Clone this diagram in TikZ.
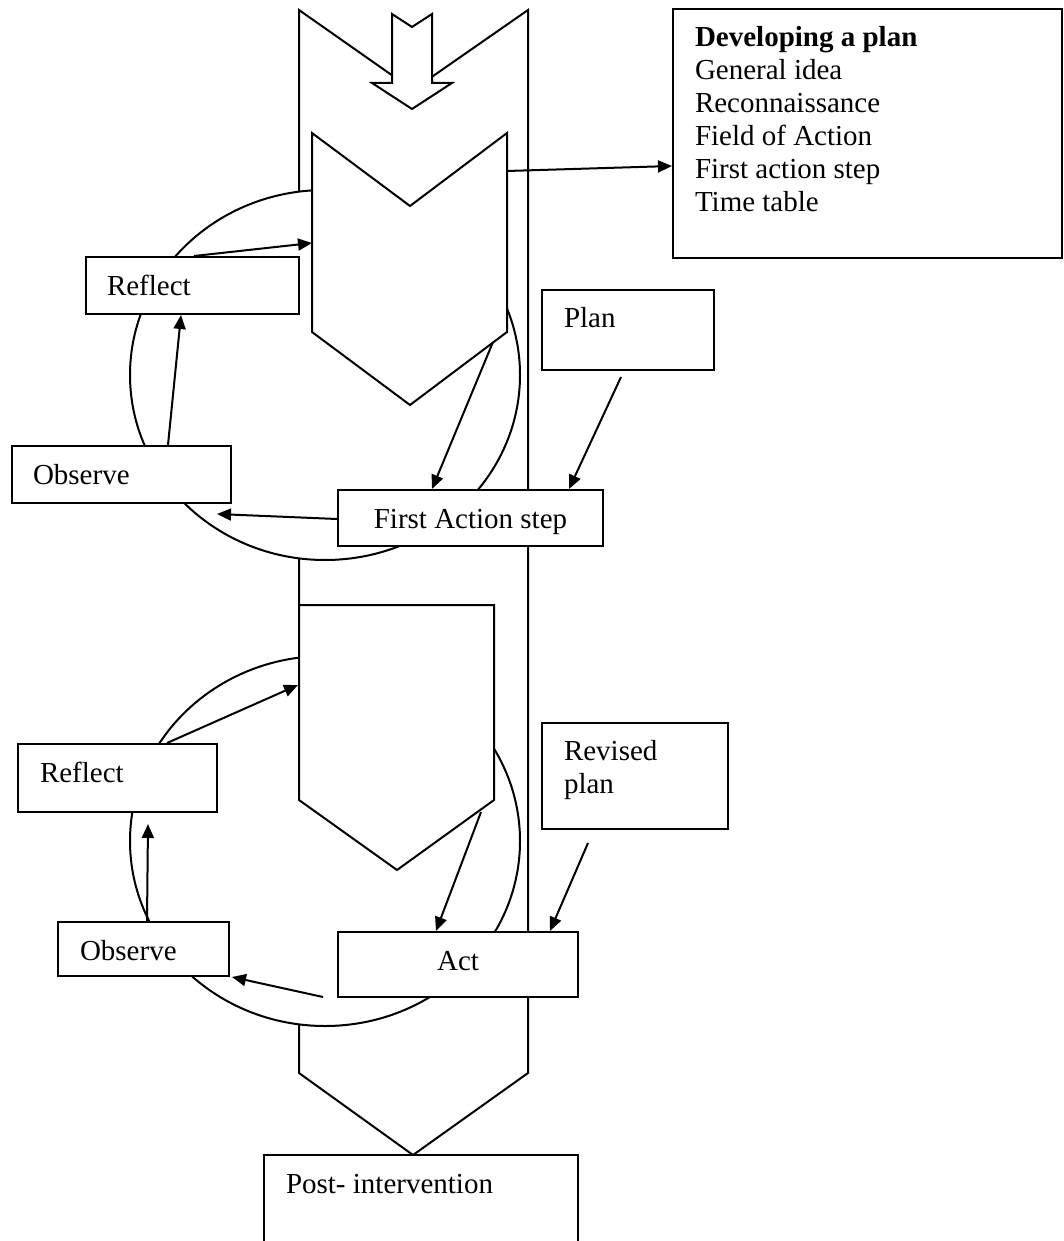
\documentclass[tikz,border=0pt]{standalone}
\usepackage{fontspec}
\setmainfont{Liberation Serif}
\usetikzlibrary{arrows.meta,calc}
\begin{document}
\begin{tikzpicture}[x=0.5pt,y=-0.5pt, line width=1pt,
  shp/.style={draw, fill=white, line join=miter},
  box/.style={draw, fill=white, inner sep=0pt},
  lbl/.style={inner sep=0pt, font=\fontsize{14.5}{16.5}\selectfont},
  con/.style={-{Triangle[length=7pt,width=6pt]}}]
\clip (0,0) rectangle (1064,1241);
% outer big arrow
\draw[shp] (299,10) -- (413,90) -- (528,10) -- (528,1073) -- (413,1155) -- (299,1073) -- cycle;
% small entry arrow
\draw[shp] (392,14) -- (412,27) -- (432,14) -- (432,83) -- (452,83) -- (412,109) -- (372,83) -- (392,83) -- cycle;
% cycles
\draw[shp] (325,375) ellipse [x radius=97.5pt, y radius=92.5pt];
\draw[shp] (325,841) ellipse [x radius=97.5pt, y radius=92.5pt];
% inner chevrons
\draw[shp] (312,133) -- (410,206) -- (507,133) -- (507,332) -- (410,405) -- (312,332) -- cycle;
\draw[shp] (299,605) -- (494,605) -- (494,800) -- (397,870) -- (299,800) -- cycle;
% boxes
\node[box, minimum width=194.5pt, minimum height=124.5pt] (dev) at (867.5,133.5) {};
\node[box, minimum width=106.5pt, minimum height=28.5pt] (reflect1) at (192.5,285.5) {};
\node[box, minimum width=86pt, minimum height=40pt] (plan) at (628,330) {};
\node[box, minimum width=109.5pt, minimum height=28.5pt] (obs1) at (121.5,474.5) {};
\node[box, minimum width=132.5pt, minimum height=28pt] (first) at (470.5,518) {};
\node[box, minimum width=99.5pt, minimum height=34pt] (reflect2) at (117.5,778) {};
\node[box, minimum width=93pt, minimum height=53pt] (revised) at (635,776) {};
\node[box, minimum width=85.5pt, minimum height=27pt] (obs2) at (143.5,949) {};
\node[box, minimum width=120pt, minimum height=32.5pt] (act) at (458,964.5) {};
\node[box, minimum width=157pt, minimum height=72.5pt] (post) at (421,1227.5) {};
% labels (multi-line labels anchored at the baseline of their last line)
\node[lbl, anchor=base west, align=left] (devt) at (694,212) {\textbf{Developing a plan}\\General idea\\Reconnaissance\\Field of Action\\First action step\\Time table};
\node[lbl, anchor=base west] (reflect1t) at (106,295) {Reflect};
\node[lbl, anchor=base west] (plant) at (563,327) {Plan};
\node[lbl, anchor=base west] (obs1t) at (32,484) {Observe};
\node[lbl, anchor=base] (firstt) at (470.5,528) {First Action step};
\node[lbl, anchor=base west] (reflect2t) at (39,782) {Reflect};
\node[lbl, anchor=base west, align=left] (revisedt) at (563,793) {Revised\\plan};
\node[lbl, anchor=base west] (obs2t) at (79,960) {Observe};
\node[lbl, anchor=base] (actt) at (458,970) {Act};
\node[lbl, anchor=base west] (postt) at (285,1193) {Post- intervention};
% connector end points on the drawn shapes
\coordinate (c1) at (507,171);
\coordinate (c2) at (312,243);
\coordinate (c4) at (217,514);
\coordinate (c5) at (493,342);
\coordinate (c6) at (621,377);
\coordinate (c7) at (298,685);
\coordinate (c8) at (148,824);
\coordinate (c9) at (323,997);
\coordinate (c9e) at (232,977);
\coordinate (c10) at (481,812);
\coordinate (c11) at (588,843);
% connectors
\draw[con] (c1) -- ($(dev.north west)+(0,158)$);
\draw[con] ($(reflect1.north west)+(109,0)$) -- (c2);
\draw[con] ($(obs1.north west)+(157,0)$) -- ($(reflect1.south west)+(96,0)$);
\draw[con] ($(first.west)+(0,1)$) -- (c4);
\draw[con] (c5) -- ($(first.north west)+(95,0)$);
\draw[con] (c6) -- ($(first.north west)+(232,0)$);
\draw[con] ($(reflect2.north west)+(150,0)$) -- (c7);
\draw[con] ($(obs2.north west)+(90,0)$) -- (c8);
\draw[con] (c9) -- (c9e);
\draw[con] (c10) -- ($(act.north west)+(99,0)$);
\draw[con] (c11) -- ($(act.north west)+(213,0)$);
\end{tikzpicture}
\end{document}
